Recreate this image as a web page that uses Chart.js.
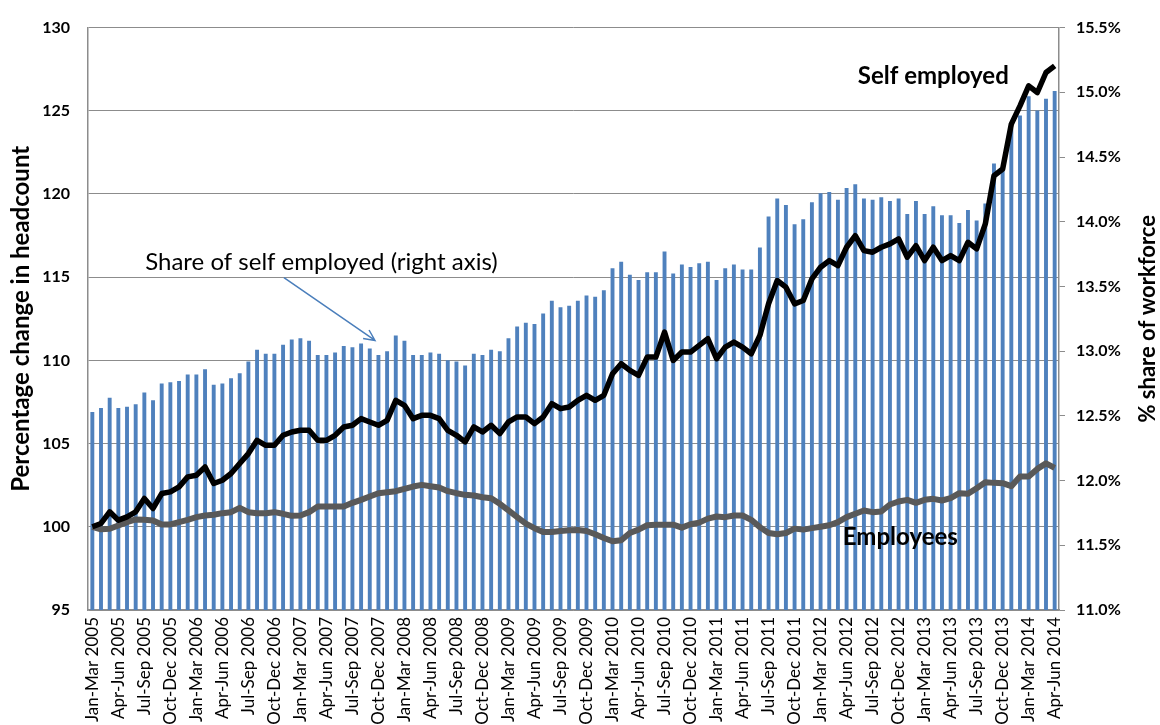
<!DOCTYPE html>
<html>
<head>
<meta charset="utf-8">
<script src="https://cdn.jsdelivr.net/npm/chart.js@4.4.1/dist/chart.umd.min.js"></script>
<style>
  html, body { margin: 0; padding: 0; background: #fff; overflow: hidden; }
  canvas { display: block; }
</style>
</head>
<body>
<canvas id="chart" width="1160" height="725"></canvas>
<script>
// rolling three-month periods, Jan-Mar 2005 .. Apr-Jun 2014
var monthNames = ["Jan","Feb","Mar","Apr","May","Jun","Jul","Aug","Sep","Oct","Nov","Dec"];
var firstYear = 2005;
var periodCount = 112;

// index, first period = 100
var selfEmployed = [
  100.0,100.2,100.9,100.4,100.6,100.9,101.7,101.1,102.0,102.1,102.4,103.0,
  103.1,103.6,102.6,102.8,103.2,103.8,104.4,105.2,104.9,104.9,105.5,105.7,
  105.8,105.8,105.2,105.2,105.5,106.0,106.1,106.5,106.3,106.1,106.4,107.6,
  107.3,106.5,106.7,106.7,106.5,105.8,105.5,105.1,106.0,105.7,106.1,105.6,
  106.3,106.6,106.6,106.2,106.6,107.4,107.1,107.2,107.6,107.9,107.6,107.9,
  109.2,109.8,109.4,109.1,110.2,110.2,111.7,110.0,110.5,110.5,110.9,111.3,
  110.1,110.8,111.1,110.8,110.4,111.5,113.4,114.8,114.4,113.4,113.6,114.9,
  115.6,116.0,115.7,116.8,117.5,116.6,116.5,116.8,117.0,117.3,116.2,116.9,
  116.0,116.8,116.0,116.3,116.0,117.1,116.7,118.2,121.1,121.5,124.2,125.3,
  126.5,126.1,127.3,127.7
];

var employees = [
  100.0,99.85,99.88,100.08,100.28,100.44,100.42,100.38,100.14,100.14,100.28,100.42,
  100.58,100.68,100.72,100.82,100.88,101.14,100.88,100.82,100.82,100.88,100.78,100.66,
  100.68,100.88,101.22,101.22,101.22,101.22,101.44,101.62,101.82,102.02,102.08,102.14,
  102.28,102.42,102.52,102.44,102.36,102.14,102.02,101.92,101.88,101.78,101.72,101.38,
  100.98,100.58,100.19,99.92,99.69,99.69,99.75,99.79,99.81,99.75,99.55,99.33,
  99.13,99.19,99.63,99.83,100.09,100.13,100.13,100.13,99.95,100.15,100.25,100.49,
  100.62,100.58,100.68,100.68,100.42,99.98,99.63,99.55,99.63,99.89,99.83,99.92,
  100.0,100.09,100.28,100.58,100.78,100.98,100.88,100.92,101.34,101.52,101.62,101.44,
  101.62,101.68,101.58,101.72,102.02,101.98,102.32,102.68,102.64,102.62,102.44,103.02,
  103.02,103.48,103.81,103.54
];

// share of self employed in workforce, % (right axis)
var shareSelfEmployed = [
  12.53,12.56,12.64,12.56,12.57,12.59,12.68,12.62,12.75,12.76,12.77,12.82,
  12.82,12.86,12.74,12.75,12.79,12.83,12.92,13.01,12.98,12.98,13.05,13.09,
  13.10,13.08,12.97,12.97,12.99,13.04,13.03,13.06,13.02,12.97,13.00,13.12,
  13.08,12.97,12.97,12.99,12.98,12.93,12.92,12.89,12.98,12.97,13.01,13.00,
  13.10,13.19,13.22,13.21,13.29,13.39,13.34,13.35,13.39,13.43,13.42,13.47,
  13.64,13.69,13.59,13.55,13.61,13.61,13.77,13.60,13.67,13.65,13.68,13.69,
  13.55,13.64,13.67,13.63,13.63,13.80,14.04,14.18,14.13,13.98,14.02,14.15,
  14.22,14.23,14.17,14.26,14.29,14.18,14.17,14.19,14.16,14.18,14.06,14.16,
  14.06,14.12,14.05,14.05,13.99,14.09,14.01,14.14,14.45,14.42,14.72,14.82,
  14.97,14.86,14.95,15.01
];

var labels = [];
for (var i = 0; i < periodCount; i++) {
  var m = i % 12;
  var y = firstYear + Math.floor(i / 12);
  var endM = (m + 2) % 12;
  var endY = y + (m + 2 >= 12 ? 1 : 0);
  labels.push(monthNames[m] + "-" + monthNames[endM] + " " + endY);
}

var FONT = "Lato, 'Open Sans', sans-serif";
var gridGrey = "#8c8c8c";

// text and arrow drawn on top of the plot
var notes = {
  id: "notes",
  afterDatasetsDraw: function(chart) {
    var ctx = chart.ctx, x = chart.scales.x, yl = chart.scales.y, area = chart.chartArea;
    ctx.save();

    // right axis title (reads bottom to top)
    ctx.translate(chart.width - 12, (area.top + area.bottom) / 2);
    ctx.rotate(-Math.PI / 2);
    ctx.font = "bold 22px " + FONT;
    ctx.fillStyle = "#000";
    ctx.textAlign = "center";
    ctx.textBaseline = "middle";
    ctx.fillText("% share of workforce", 0, 0);
    ctx.setTransform(1, 0, 0, 1, 0, 0);

    ctx.font = "bold 24px " + FONT;
    ctx.fillStyle = "#000";
    ctx.fillText("Self employed", x.getPixelForValue(97), yl.getPixelForValue(127.1));
    ctx.fillText("Employees", x.getPixelForValue(93.2), yl.getPixelForValue(99.35));

    ctx.font = "24px " + FONT;
    ctx.textAlign = "left";
    ctx.textBaseline = "alphabetic";
    ctx.fillText("Share of self employed (right axis)", x.getPixelForValue(6.1), yl.getPixelForValue(115.45));

    // arrow
    var x0 = x.getPixelForValue(22.1), y0 = yl.getPixelForValue(114.98);
    var x1 = x.getPixelForValue(32.6), y1 = yl.getPixelForValue(111.2);
    var ang = Math.atan2(y1 - y0, x1 - x0);
    ctx.strokeStyle = "#4a7ebb";
    ctx.lineWidth = 1.5;
    ctx.beginPath();
    ctx.moveTo(x0, y0);
    ctx.lineTo(x1, y1);
    ctx.moveTo(x1 - 12 * Math.cos(ang - 0.45), y1 - 12 * Math.sin(ang - 0.45));
    ctx.lineTo(x1, y1);
    ctx.lineTo(x1 - 12 * Math.cos(ang + 0.45), y1 - 12 * Math.sin(ang + 0.45));
    ctx.stroke();
    ctx.restore();
  }
};

new Chart(document.getElementById("chart"), {
  type: "bar",
  data: {
    labels: labels,
    datasets: [
      {
        type: "line",
        label: "Self employed",
        data: selfEmployed,
        yAxisID: "y",
        borderColor: "#000",
        borderWidth: 5.5,
        borderJoinStyle: "round",
        pointRadius: 0,
        tension: 0,
        order: 0
      },
      {
        type: "line",
        label: "Employees",
        data: employees,
        yAxisID: "y",
        borderColor: "#595959",
        borderWidth: 6,
        borderJoinStyle: "round",
        pointRadius: 0,
        tension: 0,
        order: 1
      },
      {
        type: "bar",
        label: "Share of self employed",
        data: shareSelfEmployed,
        yAxisID: "y2",
        backgroundColor: "#4f81bd",
        barPercentage: 0.45,
        categoryPercentage: 1.0,
        order: 2
      }
    ]
  },
  options: {
    responsive: false,
    animation: false,
    layout: { padding: { top: 25, left: 0, right: 0, bottom: 0 } },
    plugins: { legend: { display: false }, tooltip: { enabled: false } },
    scales: {
      x: {
        grid: { display: false, drawTicks: false },
        border: { display: true, color: gridGrey, width: 1.5 },
        ticks: {
          autoSkip: false,
          maxRotation: 90,
          minRotation: 90,
          padding: 7,
          color: "#000",
          font: { family: FONT, size: 17 },
          callback: function(v, idx) { return idx % 3 === 0 ? this.getLabelForValue(v) : null; }
        },
        afterFit: function(s) { s.height = 115; }
      },
      y: {
        position: "left",
        min: 95,
        max: 130,
        grid: { color: gridGrey, lineWidth: 1, drawTicks: false },
        border: { display: true, color: gridGrey, width: 1.5 },
        ticks: { stepSize: 5, padding: 18, color: "#000", font: { family: FONT, size: 16, weight: "bold" } },
        title: {
          display: true,
          text: "Percentage change in headcount",
          color: "#000",
          font: { family: FONT, size: 24, weight: "bold" },
          padding: { top: 7, bottom: 0 }
        },
        afterFit: function(s) { s.width = 88; }
      },
      y2: {
        position: "right",
        min: 11,
        max: 15.5,
        grid: { drawOnChartArea: false, color: gridGrey, tickLength: 6 },
        border: { display: true, color: gridGrey, width: 1.5 },
        ticks: {
          stepSize: 0.5,
          padding: 11,
          color: "#000",
          font: { family: FONT, size: 16, weight: "bold" },
          callback: function(v) { return v.toFixed(1) + "%"; }
        },
        afterFit: function(s) { s.width = 101; }
      }
    }
  },
  plugins: [notes]
});
</script>
</body>
</html>
